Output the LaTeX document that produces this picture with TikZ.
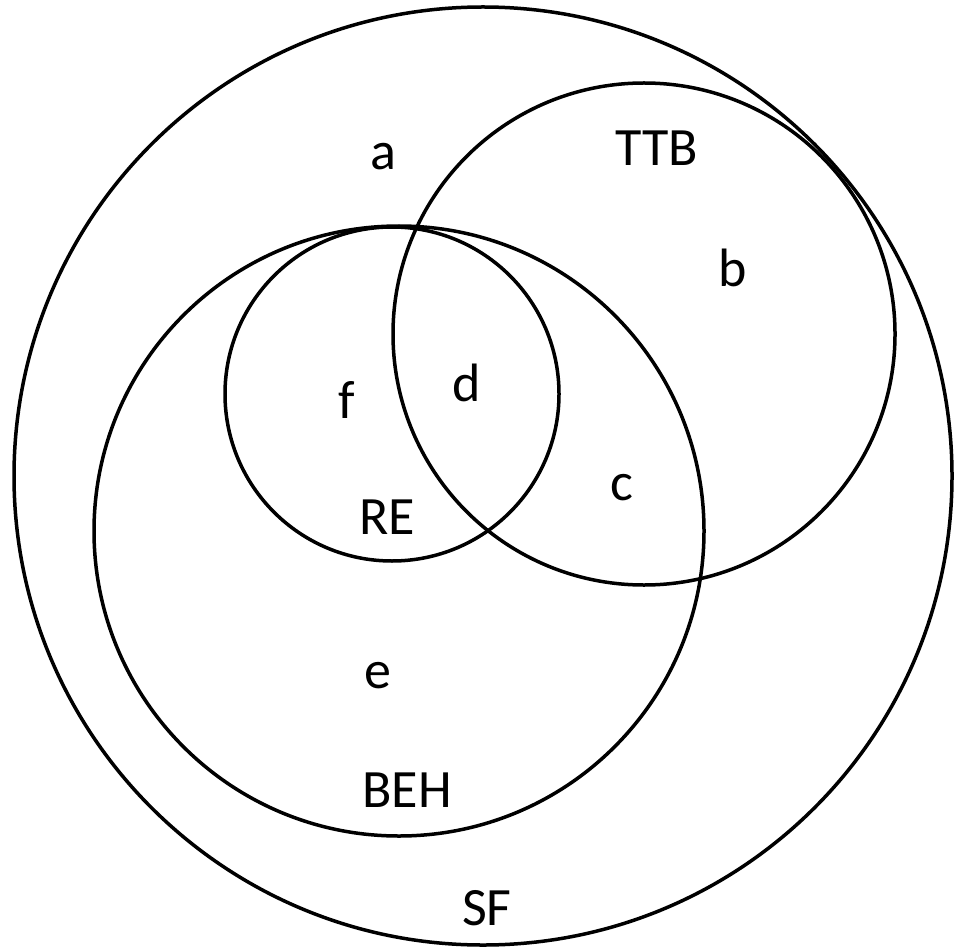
\documentclass[tikz,border=0pt]{standalone}
\usepackage{fontspec}
\setmainfont{Carlito}
\begin{document}
\begin{tikzpicture}[x=1pt,y=-1pt,
  setc/.style={draw=black,line width=3.5pt},
  lab/.style={font=\fontsize{54}{60}\selectfont,inner sep=0pt}]
\useasboundingbox (0,0) rectangle (957,949);
\draw[setc] (483,476) circle (469);
\draw[setc] (644,334) circle (251);
\draw[setc] (399,531) circle (305);
\draw[setc] (392,394) circle (167);
\node[lab] (a) at (383,157) {a};
\node[lab] (ttb) at (657,148) {TTB};
\node[lab] (b) at (733,268) {b};
\node[lab] (f) at (347,400) {f};
\node[lab] (d) at (467,383) {d};
\node[lab] (c) at (622,488) {c};
\node[lab] (re) at (387,517) {RE};
\node[lab] (e) at (378,676) {e};
\node[lab] (beh) at (407,790) {BEH};
\node[lab] (sf) at (487,908) {SF};
\end{tikzpicture}
\end{document}
